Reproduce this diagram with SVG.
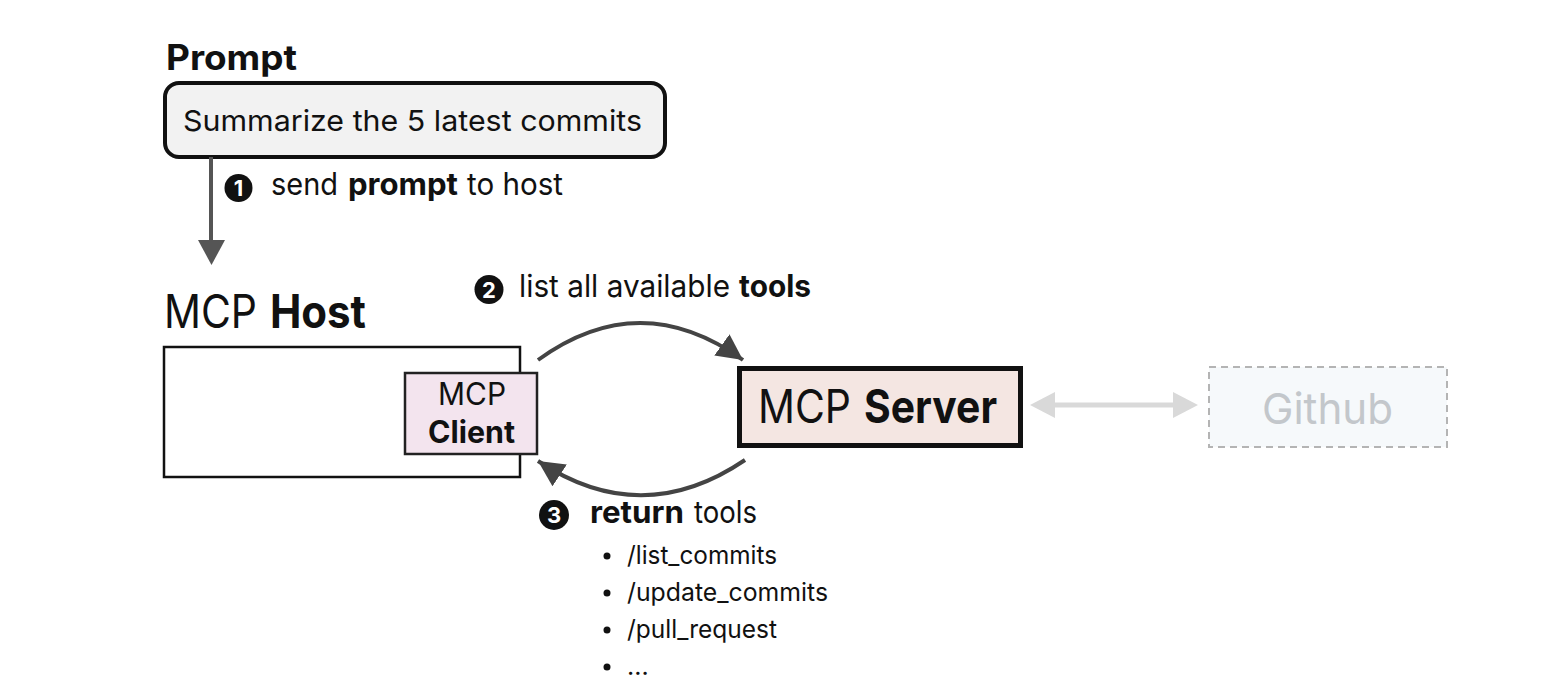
<svg xmlns="http://www.w3.org/2000/svg" width="1544" height="690" viewBox="0 0 1544 690">
  <defs>
    <style>
      text { font-family: Inter, "Liberation Sans", "DejaVu Sans", sans-serif; fill: #111; }
      .b { font-weight: 700; }
      .num { font-weight: 700; fill: #fff; font-size: 22px; text-anchor: middle; }
      .lbl { font-size: 31px; }
      .big { font-size: 46px; }
      .item { font-size: 25px; }
      .arc { fill: none; stroke: #444; stroke-width: 4; }
    </style>
    <marker id="ah" markerUnits="userSpaceOnUse" markerWidth="30" markerHeight="30" refX="26" refY="13" orient="auto" viewBox="0 0 30 26">
      <path d="M0,0 L26,13 L0,26 Z" fill="#444"/>
    </marker>
  </defs>
  <rect width="1544" height="690" fill="#fff"/>

  <g id="prompt">
    <text class="b" x="166" y="70" font-size="35" textLength="131" lengthAdjust="spacingAndGlyphs">Prompt</text>
    <rect x="165" y="83" width="500" height="74" rx="14" fill="#f2f2f2" stroke="#111" stroke-width="4"/>
    <text x="183" y="131" font-size="29" textLength="459" lengthAdjust="spacingAndGlyphs">Summarize the 5 latest commits</text>
  </g>

  <g id="host">
    <text class="big" x="164" y="328" textLength="93" lengthAdjust="spacingAndGlyphs">MCP</text>
    <text class="big b" x="270" y="328" textLength="96" lengthAdjust="spacingAndGlyphs">Host</text>
    <rect x="164" y="347" width="356" height="130" fill="#fff" stroke="#111" stroke-width="2.5"/>
  </g>

  <g id="client">
    <rect x="405" y="373" width="132" height="81" fill="#f3e4ee" stroke="#222" stroke-width="2.5"/>
    <text x="472" y="405" font-size="31" text-anchor="middle" textLength="68" lengthAdjust="spacingAndGlyphs">MCP</text>
    <text class="b" x="471.5" y="443" font-size="31" text-anchor="middle" textLength="87" lengthAdjust="spacingAndGlyphs">Client</text>
  </g>

  <g id="server">
    <rect x="739.5" y="368.5" width="281" height="77" fill="#f4e6e2" stroke="#111" stroke-width="5"/>
    <text class="big" x="758" y="423" textLength="93" lengthAdjust="spacingAndGlyphs">MCP</text>
    <text class="big b" x="864" y="423" textLength="133" lengthAdjust="spacingAndGlyphs">Server</text>
  </g>

  <g id="github">
    <rect x="1209" y="367" width="238" height="80" fill="#f6f9fb" stroke="#b4b4b4" stroke-width="2" stroke-dasharray="7 5"/>
    <text x="1327.5" y="424" font-size="43" text-anchor="middle" style="fill:#c3c7cb" textLength="131" lengthAdjust="spacingAndGlyphs">Github</text>
  </g>

  <g id="step1">
    <circle cx="238.5" cy="188" r="14" fill="#111"/>
    <text class="num" x="238.5" y="196">1</text>
    <text class="lbl" x="271" y="195" textLength="67" lengthAdjust="spacingAndGlyphs">send</text>
    <text class="lbl b" x="348" y="195" textLength="110" lengthAdjust="spacingAndGlyphs">prompt</text>
    <text class="lbl" x="467" y="195" textLength="96" lengthAdjust="spacingAndGlyphs">to host</text>
  </g>

  <g id="step2">
    <circle cx="489" cy="289.5" r="14.5" fill="#111"/>
    <text class="num" x="489" y="297.5">2</text>
    <text class="lbl" x="519" y="297" textLength="211" lengthAdjust="spacingAndGlyphs">list all available</text>
    <text class="lbl b" x="739" y="297" textLength="72" lengthAdjust="spacingAndGlyphs">tools</text>
  </g>

  <g id="step3">
    <circle cx="554" cy="515" r="15" fill="#111"/>
    <text class="num" x="554" y="523">3</text>
    <text class="lbl b" x="590" y="523" textLength="94" lengthAdjust="spacingAndGlyphs">return</text>
    <text class="lbl" x="694" y="523" textLength="63" lengthAdjust="spacingAndGlyphs">tools</text>
    <g fill="#111">
      <circle cx="607" cy="556" r="3.5"/>
      <circle cx="607" cy="593" r="3.5"/>
      <circle cx="607" cy="630" r="3.5"/>
      <circle cx="607" cy="667" r="3.5"/>
    </g>
    <text class="item" x="627" y="564" textLength="150" lengthAdjust="spacingAndGlyphs">/list_commits</text>
    <text class="item" x="627" y="601" textLength="201" lengthAdjust="spacingAndGlyphs">/update_commits</text>
    <text class="item" x="627" y="638" textLength="150" lengthAdjust="spacingAndGlyphs">/pull_request</text>
    <text class="item" x="627" y="675">...</text>
  </g>

  <g id="connectors">
    <line x1="211" y1="157" x2="211" y2="241" stroke="#555" stroke-width="4"/>
    <polygon points="198,240 225,240 211.5,265" fill="#555"/>
    <path class="arc" d="M538,360 Q640,286 743,360" marker-end="url(#ah)"/>
    <path class="arc" d="M745,460 Q642,530 538,461" marker-end="url(#ah)"/>
    <line x1="1052" y1="405" x2="1176" y2="405" stroke="#d9d9d9" stroke-width="5"/>
    <polygon points="1030,405 1055,392 1055,418" fill="#d9d9d9"/>
    <polygon points="1198,405 1173,392 1173,418" fill="#d9d9d9"/>
  </g>
</svg>
